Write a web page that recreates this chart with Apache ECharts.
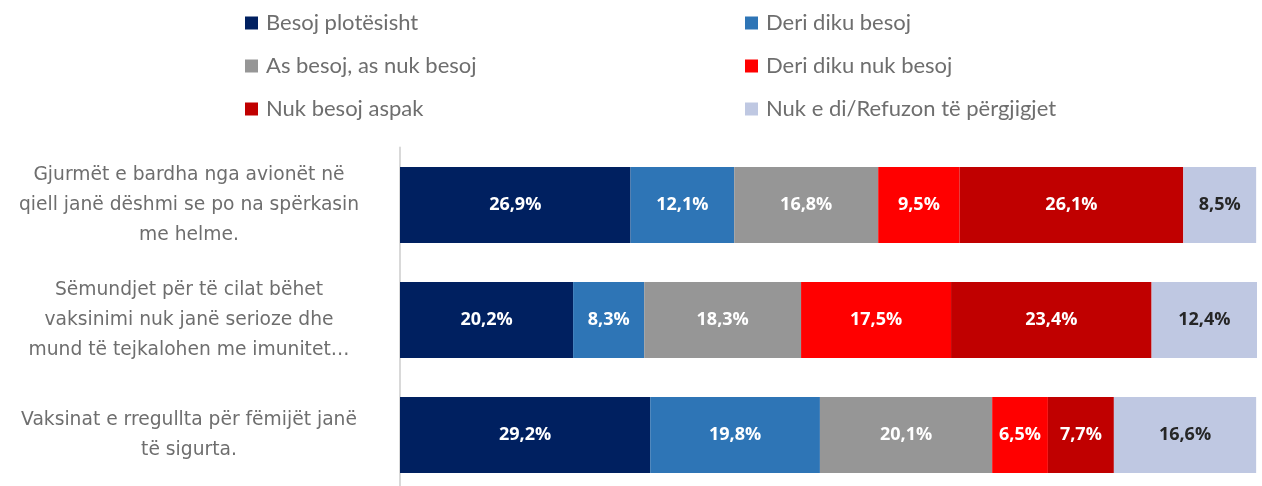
<!DOCTYPE html>
<html lang="sq">
<head>
<meta charset="UTF-8">
<title>Besimi</title>
<script src="https://cdn.jsdelivr.net/npm/echarts@6/dist/echarts.min.js"></script>
<style>
  html, body { margin: 0; padding: 0; background: #fff; }
</style>
</head>
<body>
<div id="main" style="width:1262px;height:486px;"></div>
<script>
// pohimet (nga lart poshte)
var categories = [
  'Gjurmët e bardha nga avionët në\nqiell janë dëshmi se po na spërkasin\nme helme.',
  'Sëmundjet për të cilat bëhet\nvaksinimi nuk janë serioze dhe\nmund të tejkalohen me imunitet…',
  'Vaksinat e rregullta për fëmijët janë\ntë sigurta.'
];
var seriesNames = [
  'Besoj plotësisht', 'Deri diku besoj', 'As besoj, as nuk besoj',
  'Deri diku nuk besoj', 'Nuk besoj aspak', 'Nuk e di/Refuzon të përgjigjet'
];
var besojPlotesisht = [26.9, 20.2, 29.2];
var deriDikuBesoj = [12.1, 8.3, 19.8];
var asBesoj = [16.8, 18.3, 20.1];
var deriDikuNukBesoj = [9.5, 17.5, 6.5];
var nukBesojAspak = [26.1, 23.4, 7.7];
var nukEDi = [8.5, 12.4, 16.6];

var values = [besojPlotesisht, deriDikuBesoj, asBesoj, deriDikuNukBesoj, nukBesojAspak, nukEDi];
var colors = ['#002060', '#2E75B6', '#969696', '#FF0000', '#C00000', '#BFC8E2'];
var labelColors = ['#fff', '#fff', '#fff', '#fff', '#fff', '#262626'];

var series = seriesNames.map(function (name, i) {
  return {
    name: name,
    type: 'bar',
    stack: 'total',
    barWidth: 76,
    itemStyle: { color: colors[i] },
    label: {
      show: true,
      position: 'inside',
      color: labelColors[i],
      fontFamily: '"Open Sans"',
      fontWeight: 'bold',
      fontSize: 18,
      padding: [4, 0, 0, 0],
      formatter: function (p) {
        return p.value.toFixed(1).replace('.', ',') + '%';
      }
    },
    data: values[i]
  };
});

var legendText = {
  color: '#6e6e6e', fontFamily: 'Lato', fontSize: 22, lineHeight: 22,
  padding: [0, 0, 0, 3]
};

var myChart = echarts.init(document.getElementById('main'));
var option = {
  animation: false,
  color: colors,
  legend: [
    {
      orient: 'vertical', left: 245, top: 12, padding: 0,
      itemWidth: 13, itemHeight: 13, itemGap: 21,
      icon: 'rect',
      textStyle: legendText,
      data: [seriesNames[0], seriesNames[2], seriesNames[4]]
    },
    {
      orient: 'vertical', left: 745, top: 12, padding: 0,
      itemWidth: 13, itemHeight: 13, itemGap: 21,
      icon: 'rect',
      textStyle: legendText,
      data: [seriesNames[1], seriesNames[3], seriesNames[5]]
    }
  ],
  grid: { left: 400, right: 5, top: 147.5, height: 345, outerBoundsMode: 'none', containLabel: false },
  xAxis: {
    type: 'value',
    min: 0,
    max: 100,
    show: false
  },
  yAxis: {
    type: 'category',
    inverse: true,
    data: categories,
    axisLine: { show: true, lineStyle: { color: '#d9d9d9', width: 2 } },
    axisTick: { show: false },
    axisLabel: {
      margin: 211,
      align: 'center',
      color: '#6e6e6e',
      fontFamily: '"DejaVu Sans"',
      fontSize: 18.7,
      lineHeight: 30,
      padding: [6, 0, 0, 0]
    }
  },
  series: series
};
myChart.setOption(option);
</script>
</body>
</html>
